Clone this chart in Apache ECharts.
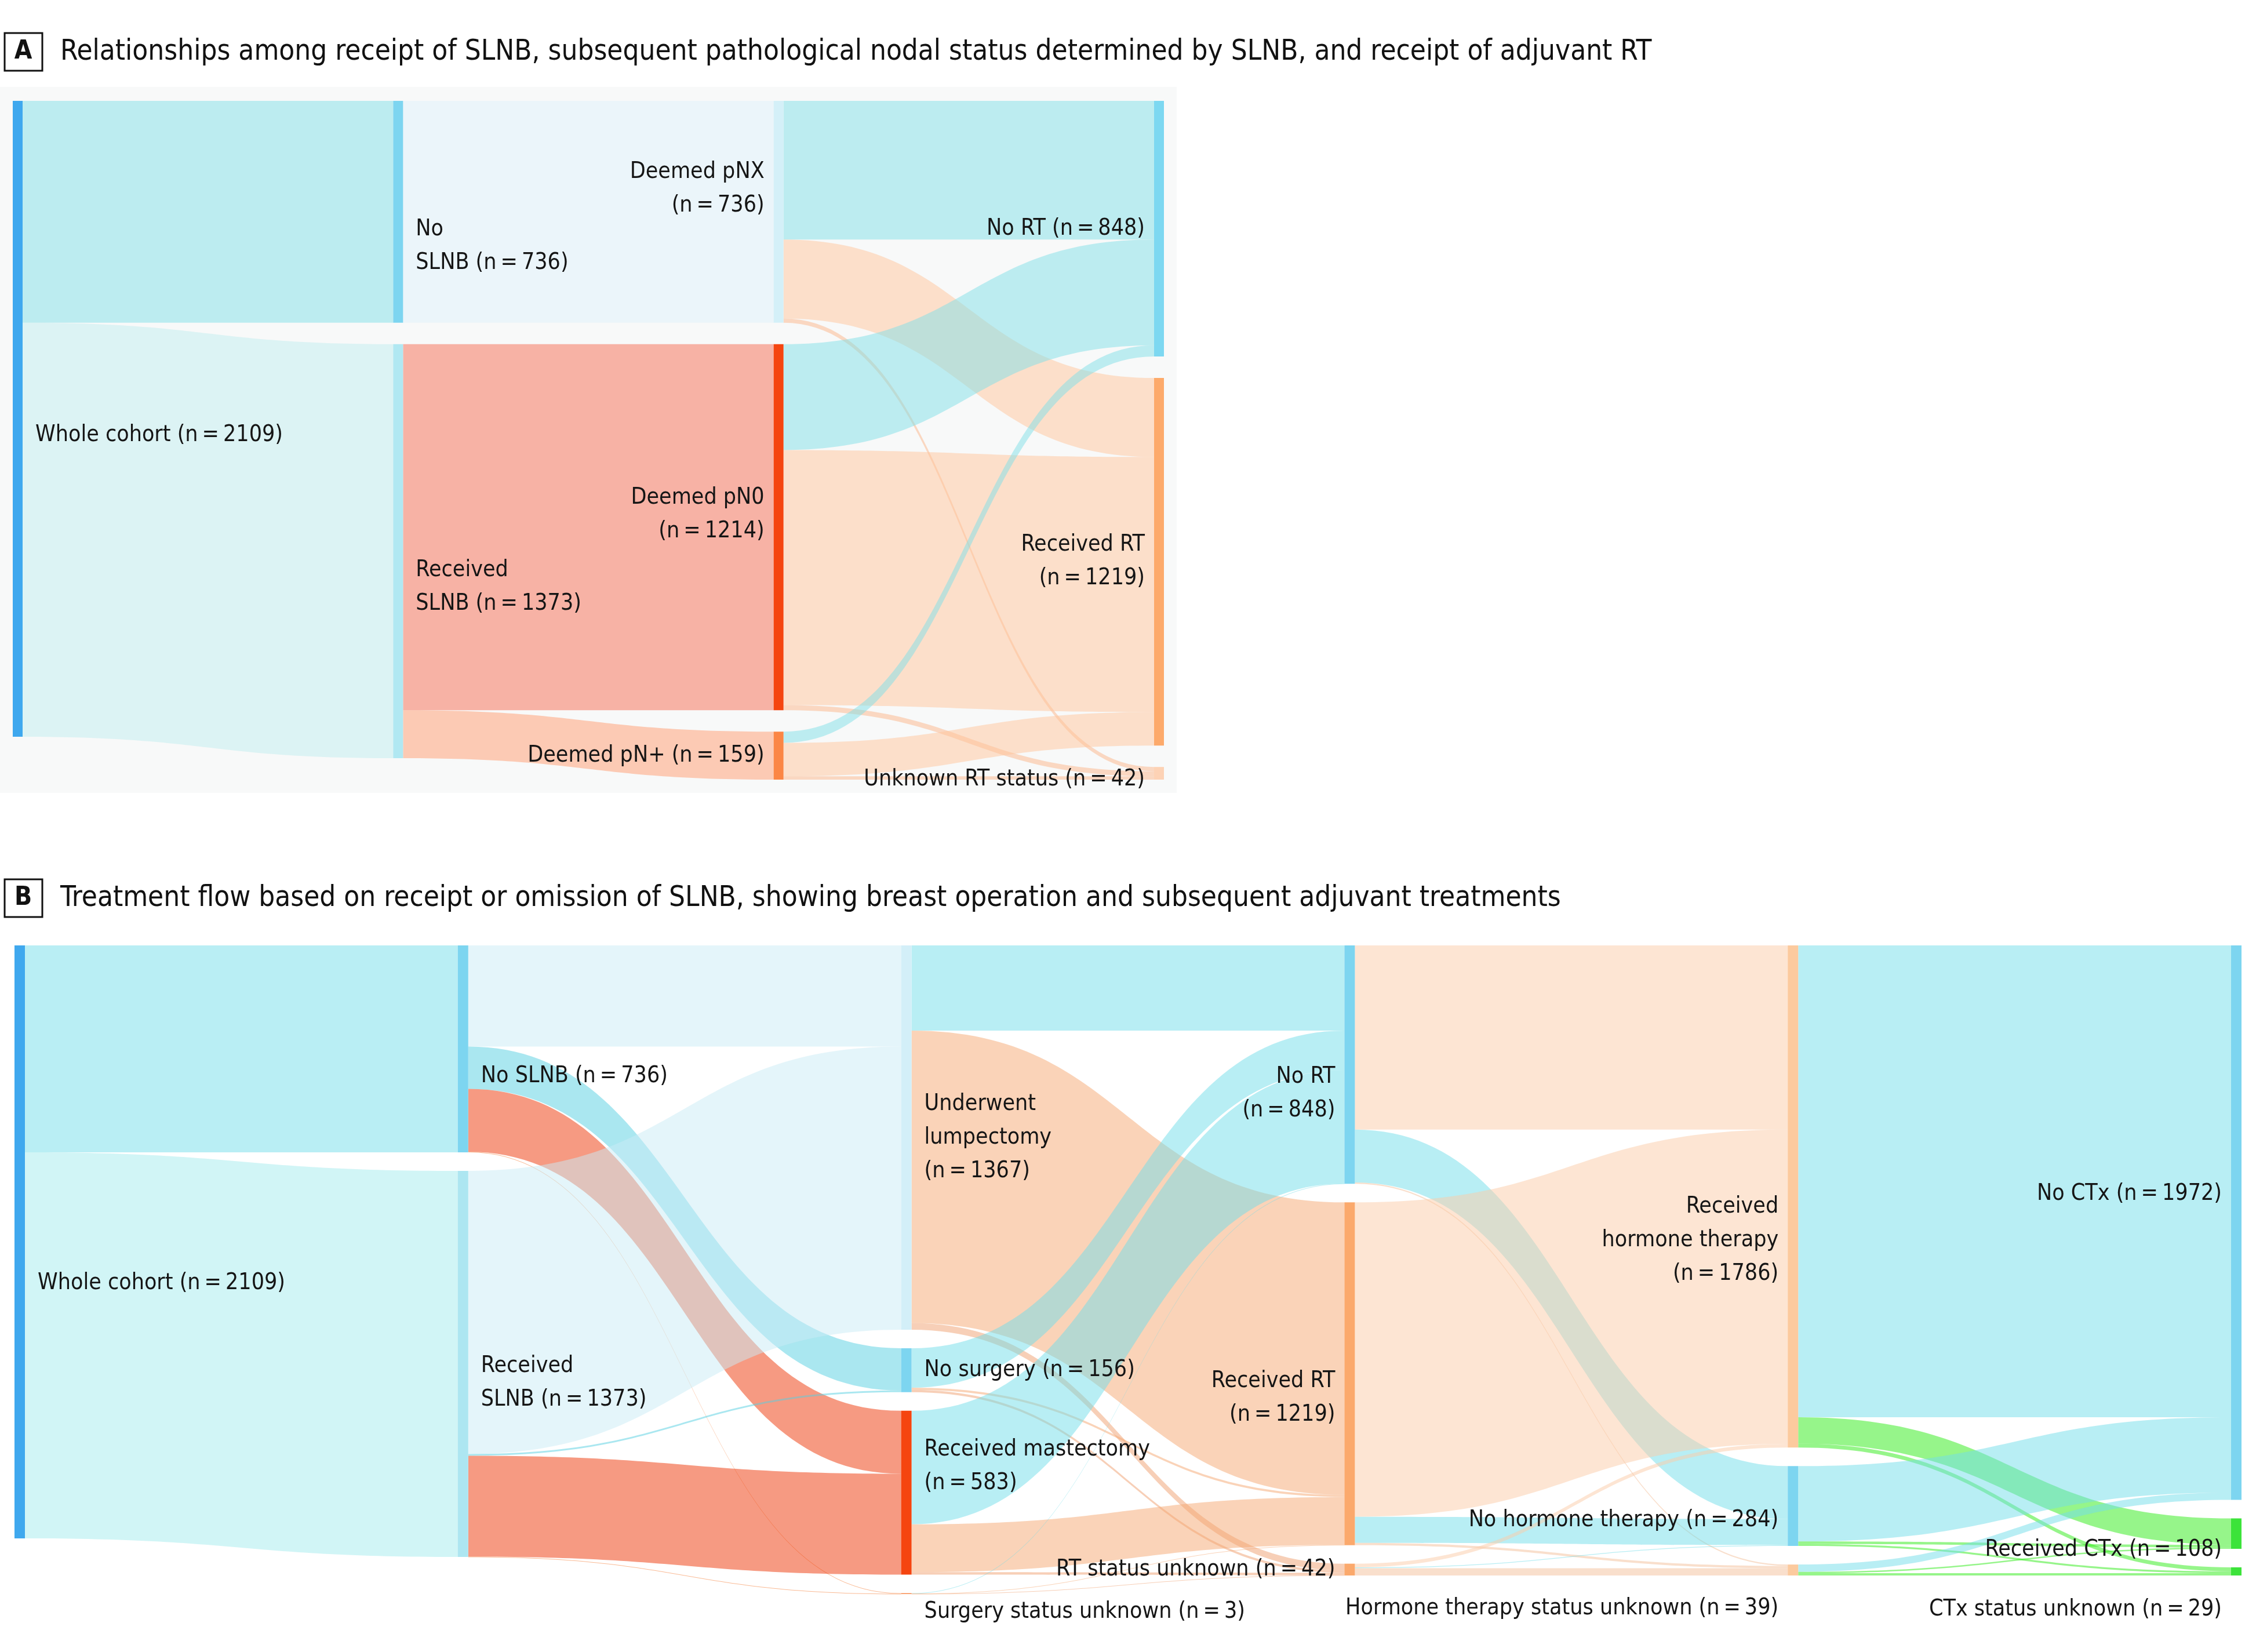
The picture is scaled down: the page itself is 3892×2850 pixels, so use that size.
<!DOCTYPE html>
<html><head><meta charset="utf-8">
<script src="https://cdn.jsdelivr.net/npm/echarts@6/dist/echarts.min.js"></script>
<style>html,body{margin:0;padding:0;background:#fff}#c{width:3892px;height:2850px}</style>
</head><body><div id="c"></div>
<script>
// ---------------- DATA ----------------
const titleA = 'Relationships among receipt of SLNB, subsequent pathological nodal status determined by SLNB, and receipt of adjuvant RT';
const titleB = 'Treatment flow based on receipt or omission of SLNB, showing breast operation and subsequent adjuvant treatments';

const nodesA = [
  'Whole cohort (n\u2009=\u20092109)',
  'No\nSLNB (n\u2009=\u2009736)',
  'Received\nSLNB (n\u2009=\u20091373)',
  'Deemed pNX\n(n\u2009=\u2009736)',
  'Deemed pN0\n(n\u2009=\u20091214)',
  'Deemed pN+ (n\u2009=\u2009159)',
  'No RT (n\u2009=\u2009848)',
  'Received RT\n(n\u2009=\u20091219)',
  'Unknown RT status (n\u2009=\u200942)'
];
const linkSourceA = [0, 0, 1, 2, 2, 3, 3, 3, 4, 4, 4, 5, 5, 5];
const linkTargetA = [1, 2, 3, 4, 5, 6, 7, 8, 6, 7, 8, 6, 7, 8];
const linkValueA  = [736, 1373, 736, 1214, 159, 460, 262, 14, 351, 846, 17, 37, 111, 11];

const nodesB = [
  'Whole cohort (n\u2009=\u20092109)',
  'No SLNB (n\u2009=\u2009736)',
  'Received\nSLNB (n\u2009=\u20091373)',
  'Underwent\nlumpectomy\n(n\u2009=\u20091367)',
  'No surgery (n\u2009=\u2009156)',
  'Received mastectomy\n(n\u2009=\u2009583)',
  'Surgery status unknown (n\u2009=\u20093)',
  'No RT\n(n\u2009=\u2009848)',
  'Received RT\n(n\u2009=\u20091219)',
  'RT status unknown (n\u2009=\u200942)',
  'Received\nhormone therapy\n(n\u2009=\u20091786)',
  'No hormone therapy (n\u2009=\u2009284)',
  'Hormone therapy status unknown (n\u2009=\u200939)',
  'No CTx (n\u2009=\u20091972)',
  'Received CTx (n\u2009=\u2009108)',
  'CTx status unknown (n\u2009=\u200929)'
];
const linkSourceB = [0, 0,  1, 1, 1, 1,  2, 2, 2, 2,  3, 3, 3,  4, 4, 4,  5, 5, 5,  6, 6, 6,  7, 7, 7,  8, 8, 8,  9, 9, 9,  10, 10, 10,  11, 11, 11,  12, 12, 12];
const linkTargetB = [1, 2,  3, 4, 5, 6,  3, 4, 5, 6,  7, 8, 9,  7, 8, 9,  7, 8, 9,  7, 8, 9,  10, 11, 12,  10, 11, 12,  10, 11, 12,  13, 14, 15,  13, 14, 15,  13, 14, 15];
const linkValueB  = [736, 1373,  360, 150, 224, 2,  1007, 6, 359, 1,  303, 1040, 24,  140, 8, 8,  404, 170, 9,  1, 1, 1,  655, 188, 5,  1118, 93, 8,  13, 3, 26,  1678, 94, 14,  268, 9, 7,  26, 5, 8];

// ---------------- STYLE ----------------
const FONT = "'Liberation Sans Narrow','DejaVu Sans Condensed','Arial Narrow',sans-serif";
const TXT = '#151515';

const nodeColorA = ['#3fa8ee', '#7dd5f0', '#b1e8f2', '#d4f0f8', '#f54510', '#fb8645', '#7dd8f1', '#fdaa6b', '#fdd2b5'];
const linkColorA = [null, '#80dfe8', '#c0eef0', '#def1fb', '#f56c52', '#ff9c70', '#80dfe8', '#ffc59c', '#fbb58a'];
const labelOffsetA = {0: [0, 28], 1: [0, 59], 2: [0, 62], 3: [0, -40], 4: [0, -22], 8: [0, 11]};

const nodeColorB = ['#3fa8ee', '#7dd5f0', '#ade6f1', '#d3eff8', '#7dd5f0', '#f54510', '#f8894a',
  '#7dd5f0', '#fba96c', '#fba96c', '#fcca9e', '#7dd5f0', '#fcca9e', '#7dd5f0', '#3ce33a', '#3ce33a'];
const linkColorB = [null, '#73dde9', '#a3ebed', '#c9ebf5', '#55cfe1', '#ed3505', '#f5762a',
  '#72dde9', '#f5a771', '#f0a070', '#fbcba7', '#72dde9', '#f3c09a', '#72dde9', '#2eeb15', '#2eeb15'];
const labelOffsetB = {0: [0, 71], 1: [0, 47], 2: [0, 33], 5: [0, -45], 6: [0, 32], 7: [0, 50], 8: [0, 42],
  10: [0, 76], 11: [0, 25], 12: [0, 66], 13: [0, -49], 14: [0, 28], 15: [0, 66]};

function depthsOf(n, src, tgt) {
  const d = new Array(n).fill(0);
  for (let it = 0; it < n; it++) {
    src.forEach((s, k) => { d[tgt[k]] = Math.max(d[tgt[k]], d[s] + 1); });
  }
  return d;
}

function makeSeries(nodes, src, tgt, val, nodeColor, linkColor, offsets, leftFrom, box) {
  const depth = depthsOf(nodes.length, src, tgt);
  const data = nodes.map((name, i) => {
    const left = depth[i] >= leftFrom;
    return {
      name: name,
      itemStyle: {color: nodeColor[i], borderWidth: 0},
      label: {
        position: left ? 'left' : 'right',
        distance: left ? 16 : 22,
        align: left ? 'right' : 'left',
        offset: offsets[i] || [0, 0]
      }
    };
  });
  const links = src.map((s, k) => ({
    source: nodes[s],
    target: nodes[tgt[k]],
    value: val[k],
    lineStyle: {color: linkColor[tgt[k]], opacity: 0.5, curveness: 0.5}
  }));
  return Object.assign({
    type: 'sankey',
    layoutIterations: 0,
    draggable: false,
    silent: true,
    emphasis: {disabled: true, focus: 'none'},
    label: {fontFamily: FONT, fontSize: 39, color: TXT, lineHeight: 58},
    itemStyle: {borderWidth: 0},
    data: data,
    links: links
  }, box);
}

const chart = echarts.init(document.getElementById('c'), null, {renderer: 'canvas'});
chart.setOption({
  backgroundColor: '#ffffff',
  animation: false,
  graphic: [
    {type: 'rect', z: 0, shape: {x: 0, y: 150, width: 2030, height: 1218}, style: {fill: '#f8f9f9'}},
    {type: 'rect', shape: {x: 8, y: 57, width: 65, height: 65}, style: {fill: '#fff', stroke: '#111', lineWidth: 3}},
    {type: 'text', x: 40, y: 90, style: {text: 'A', font: 'bold 44px ' + FONT, fill: '#111', align: 'center', verticalAlign: 'middle'}},
    {type: 'text', x: 104, y: 90, style: {text: titleA, font: '49px ' + FONT, fill: '#111', align: 'left', verticalAlign: 'middle'}},
    {type: 'rect', shape: {x: 8, y: 1517, width: 65, height: 65}, style: {fill: '#fff', stroke: '#111', lineWidth: 3}},
    {type: 'text', x: 40, y: 1550, style: {text: 'B', font: 'bold 44px ' + FONT, fill: '#111', align: 'center', verticalAlign: 'middle'}},
    {type: 'text', x: 104, y: 1550, style: {text: titleB, font: '49px ' + FONT, fill: '#111', align: 'left', verticalAlign: 'middle'}}
  ],
  series: [
    makeSeries(nodesA, linkSourceA, linkTargetA, linkValueA, nodeColorA, linkColorA, labelOffsetA, 2,
      {left: 22, right: 1884, top: 174, bottom: 1505, nodeWidth: 17, nodeGap: 37}),
    makeSeries(nodesB, linkSourceB, linkTargetB, linkValueB, nodeColorB, linkColorB, labelOffsetB, 3,
      {left: 25, right: 25, top: 1631, bottom: 100, nodeWidth: 18, nodeGap: 32})
  ]
});
</script>
</body></html>
